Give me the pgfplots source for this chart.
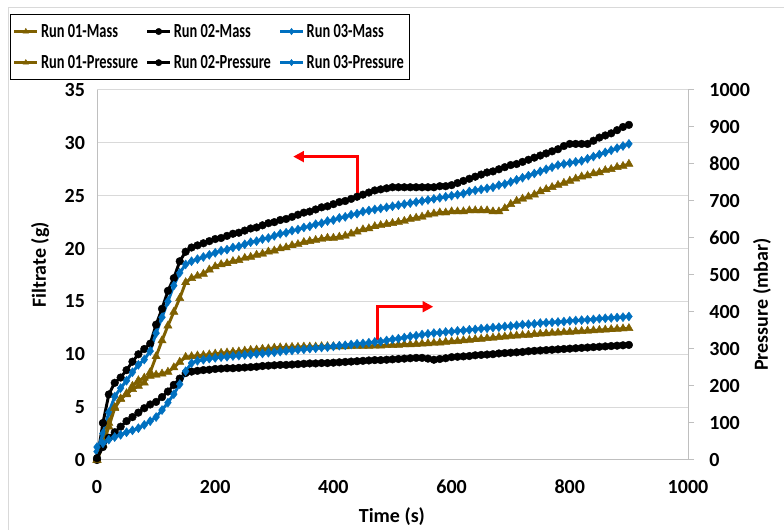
\documentclass[border=0pt]{standalone}
\usepackage{fontspec}
\setmainfont{Carlito}
\newfontfamily\legfont{Carlito}[FakeStretch=0.72]
\usepackage{pgfplots}
\usepackage{pgfplotstable}
\pgfplotsset{compat=1.18}
\usetikzlibrary{arrows.meta}
\definecolor{runA}{HTML}{7F6000}
\definecolor{runB}{HTML}{000000}
\definecolor{runC}{HTML}{0070C0}
\definecolor{gridc}{HTML}{D9D9D9}
\definecolor{axc}{HTML}{BFBFBF}

\pgfplotstableread{
t m1 m2 m3 p1 p2 p3
0 0 0 0.8 0 5 35
10 1.5 3.5 2.5 40 35 45
20 3.5 6.2 4.5 90 60 55
30 5.0 7.3 6.0 140 75 62
40 5.8 7.8 6.8 165 90 68
50 6.2 8.5 7.5 180 105 75
60 6.7 9.3 8.3 200 116 80
70 7.0 10.0 9.0 215 128 86
80 7.3 10.5 9.5 222 140 95
90 8.3 11.0 10.3 227 150 105
100 9.8 12.8 12.0 230 157 116
110 11.3 14.3 13.5 233 170 135
120 12.7 16.0 15.0 238 185 155
130 14.0 17.2 16.5 250 203 178
140 15.3 18.8 17.7 265 220 205
150 16.8 19.7 18.5 278 235 240
160 17.2 20.1 18.8 280 239 262
170 17.4 20.3 19.0 282 241 268
180 17.6 20.5 19.2 283 243 271
190 18.0 20.7 19.4 285 244 274
200 18.3 20.9 19.6 287 246 276
210 18.5 21.0 19.8 289 247 278
220 18.6 21.2 19.9 290 248 279
230 18.8 21.4 20.1 292 248 281
240 18.9 21.5 20.2 293 249 282
250 19.1 21.7 20.4 295 250 284
260 19.2 21.9 20.6 297 251 285
270 19.4 22.0 20.7 298 252 287
280 19.5 22.2 20.9 300 254 288
290 19.7 22.4 21.0 301 255 290
300 19.8 22.5 21.2 303 256 291
310 20.0 22.7 21.4 304 257 293
320 20.1 22.8 21.5 304 257 295
330 20.3 23.0 21.7 305 258 296
340 20.4 23.2 21.8 305 259 298
350 20.6 23.4 22.0 306 260 299
360 20.7 23.5 22.1 306 261 301
370 20.8 23.7 22.3 306 261 302
380 20.9 23.9 22.4 307 262 304
390 21.0 24.0 22.6 307 262 305
400 21.0 24.2 22.7 307 263 307
410 21.1 24.4 22.9 307 264 309
420 21.2 24.5 23.0 307 265 310
430 21.4 24.7 23.2 308 266 312
440 21.6 24.9 23.3 308 267 314
450 21.8 25.1 23.5 308 268 315
460 21.9 25.3 23.6 308 269 317
470 22.1 25.5 23.7 309 270 319
480 22.2 25.6 23.8 309 270 320
490 22.3 25.7 23.9 310 271 323
500 22.4 25.8 24.0 310 272 326
510 22.5 25.8 24.1 311 273 328
520 22.6 25.8 24.2 312 274 331
530 22.8 25.8 24.3 312 275 334
540 22.9 25.8 24.4 313 276 336
550 23.0 25.8 24.5 314 276 339
560 23.2 25.8 24.6 315 274 341
570 23.3 25.8 24.7 316 271 343
580 23.4 25.9 24.8 317 273 344
590 23.4 25.9 24.9 319 275 346
600 23.5 26.0 25.0 320 278 347
610 23.5 26.2 25.1 321 279 349
620 23.5 26.4 25.2 323 280 350
630 23.6 26.6 25.4 324 281 352
640 23.6 26.8 25.5 326 283 353
650 23.6 27.0 25.6 327 284 355
660 23.6 27.2 25.7 329 285 356
670 23.5 27.3 25.8 330 286 358
680 23.5 27.5 26.0 332 288 359
690 23.8 27.7 26.1 333 289 361
700 24.2 27.9 26.3 335 290 362
710 24.5 28.0 26.5 336 291 364
720 24.7 28.2 26.7 337 292 366
730 24.9 28.4 26.9 338 294 367
740 25.1 28.6 27.1 340 295 368
750 25.4 28.8 27.3 341 296 370
760 25.6 29.0 27.5 342 297 371
770 25.8 29.2 27.7 343 298 372
780 26.0 29.4 27.9 344 299 373
790 26.2 29.7 28.0 345 300 374
800 26.4 29.9 28.1 346 301 376
810 26.6 29.9 28.2 347 302 377
820 26.8 29.9 28.3 348 303 378
830 26.9 29.9 28.5 349 304 379
840 27.1 30.2 28.7 350 305 380
850 27.2 30.5 28.9 351 306 382
860 27.4 30.7 29.1 352 307 383
870 27.5 30.9 29.3 353 308 384
880 27.7 31.2 29.5 354 309 385
890 27.8 31.5 29.7 355 310 386
900 28.0 31.7 29.9 356 311 388
}\data

\pgfplotsset{
  runA/.style={color=runA, line width=2.2pt, mark=triangle*, mark size=3.6pt, mark options={solid, line width=0.3pt}},
  runB/.style={color=runB, line width=2.2pt, mark=*, mark size=2.9pt, mark options={solid, line width=0.3pt}},
  runC/.style={color=runC, line width=2.2pt, mark=diamond*, mark size=3.4pt, mark options={solid, line width=0.3pt}},
  common/.style={
    at={(72.75pt,52.5pt)}, anchor=south west, scale only axis,
    width=443.25pt, height=277.5pt,
    xmin=0, xmax=1000,
    axis line style={axc, line width=0.75pt, -},
    tick style={axc, line width=0.75pt}, tick align=outside, major tick length=4.5pt,
    ticklabel style={font=\fontsize{15}{18}\selectfont\bfseries},
    label style={font=\fontsize{15}{18}\selectfont\bfseries},
    /pgf/number format/assume math mode=true,
    /pgf/number format/1000 sep={},
    clip=false,
  },
}

\begin{document}
\begin{tikzpicture}
\path[use as bounding box] (0,0) rectangle (588pt,397.5pt);
\draw[gridc, line width=0.75pt] (6pt,0pt) -- (6pt,391.5pt) -- (588pt,391.5pt);

\begin{axis}[common,
  ymin=0, ymax=35, ytick={0,5,...,35},
  xtick={0,200,...,1000},
  axis y line*=left, axis x line*=bottom,
  xtick style={draw=none}, ytick style={draw=none},
  ymajorgrids, grid style={gridc, line width=0.75pt},
  xticklabel style={yshift=-7pt},
  yticklabel style={xshift=-1pt},
  xlabel={Time (s)}, ylabel={Filtrate (g)},
  xlabel style={at={(axis description cs:0.499,-0.154)}, anchor=center},
  ylabel style={at={(axis description cs:-0.0964,0.527)}, anchor=center},
]
\addplot[runA] table[x=t, y=m1] {\data};
\addplot[runB] table[x=t, y=m2] {\data};
\addplot[runC] table[x=t, y=m3] {\data};
\draw[red, line width=2.25pt, -{Triangle[width=8pt,length=8pt]}] (axis cs:440,24.9) -- (axis cs:440,28.7) -- (axis cs:332,28.7);
\draw[red, line width=2.25pt, -{Triangle[width=8pt,length=8pt]}] (axis cs:475,11.35) -- (axis cs:475,14.5) -- (axis cs:569,14.5);
\end{axis}

\begin{axis}[common,
  ymin=0, ymax=1000, ytick={0,100,...,1000},
  axis y line*=right, axis x line=none,
  yticklabel style={xshift=8pt},
  ylabel={Pressure (mbar)},
  ylabel style={at={(axis description cs:1.125,0.42)}, anchor=center},
  legend columns=3,
  legend style={at={(axis description cs:-0.147,1.205)}, anchor=north west,
    draw=black, line width=0.75pt, inner xsep=2pt, inner ysep=5pt,
    font=\legfont\fontsize{15}{16}\selectfont\bfseries, cells={anchor=west},
    /tikz/every even column/.append style={column sep=4pt},
    row sep=8pt},
  legend image code/.code={\draw[mark repeat=2, mark phase=2, line width=1.8pt, mark size=2.4pt] plot coordinates {(0pt,0pt) (8.5pt,0pt) (17pt,0pt)};},
]
\addlegendimage{runA}
\addlegendentry{Run 01-Mass}
\addlegendimage{runB}
\addlegendentry{Run 02-Mass}
\addlegendimage{runC}
\addlegendentry{Run 03-Mass}
\addplot[runA] table[x=t, y=p1] {\data};
\addlegendentry{Run 01-Pressure}
\addplot[runB] table[x=t, y=p2] {\data};
\addlegendentry{Run 02-Pressure}
\addplot[runC] table[x=t, y=p3] {\data};
\addlegendentry{Run 03-Pressure}
\end{axis}
\end{tikzpicture}
\end{document}
